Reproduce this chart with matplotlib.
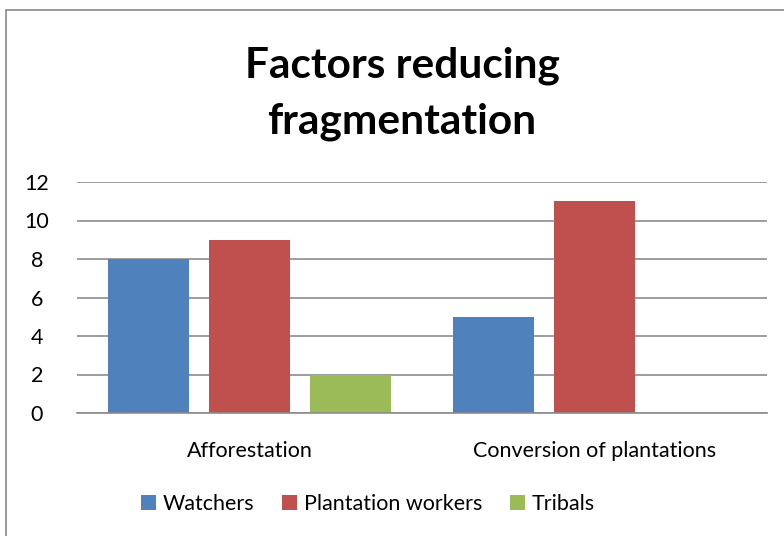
import matplotlib
matplotlib.use("Agg")
import matplotlib.pyplot as plt
from matplotlib.patches import Rectangle, Patch
import numpy as np

categories = ["Afforestation", "Conversion of plantations"]
series = ["Watchers", "Plantation workers", "Tribals"]
watchers = [8, 5]
plantation_workers = [9, 11]
tribals = [2, 0]
colors = ["#4f81bd", "#c0504d", "#9bbb59"]

plt.rcParams['font.family'] = ['Lato', 'DejaVu Sans']

fig = plt.figure(figsize=(7.84, 5.36), dpi=100)
W, H = 784, 536

# chart border (partly cut off at right/bottom)
fig.patches.append(Rectangle((5.5 / W, -0.1), 1.2, 1.1 - 10 / H,
                             transform=fig.transFigure, fill=False,
                             edgecolor="#898989", linewidth=1.2))

ax = fig.add_axes([77 / W, 1 - 413 / H, (767 - 77) / W, (413 - 182) / H])

x = np.arange(len(categories))
width = 81 / 345
step = 101 / 345
for i, vals in enumerate([watchers, plantation_workers, tribals]):
    ax.bar(x + (i - 1) * step, vals, width, color=colors[i], zorder=2)

ax.set_xlim(-0.5, 1.5)
ax.set_ylim(0, 12)
ax.set_yticks(range(0, 13, 2))
ax.yaxis.grid(True, color="#8c8c8c", linewidth=1.2, zorder=0)
ax.set_axisbelow(True)
for s in ["top", "right", "left"]:
    ax.spines[s].set_visible(False)
ax.spines["bottom"].set_color("#8c8c8c")
ax.spines["bottom"].set_linewidth(1.2)
ax.tick_params(axis="both", length=0, labelsize=15.5, colors="black")
ax.tick_params(axis="y", pad=29)
ax.tick_params(axis="x", pad=20)
ax.set_xticks(x)
ax.set_xticklabels(categories)
for lbl in ax.get_yticklabels():
    lbl.set_horizontalalignment("center")

fig.text(402 / W, 1 - 94 / H, "Factors reducing\nfragmentation", ha="center",
         va="center", fontsize=30.5, fontweight="bold", linespacing=1.55)

handles = [Patch(facecolor=c) for c in colors]
fig.legend(handles, series, loc="center", bbox_to_anchor=(368 / W, 1 - 504 / H),
           ncol=3, frameon=False, fontsize=15.5, handlelength=0.7,
           handleheight=0.7, handletextpad=0.3, columnspacing=1.3)

fig.savefig("out.png", dpi=100)
